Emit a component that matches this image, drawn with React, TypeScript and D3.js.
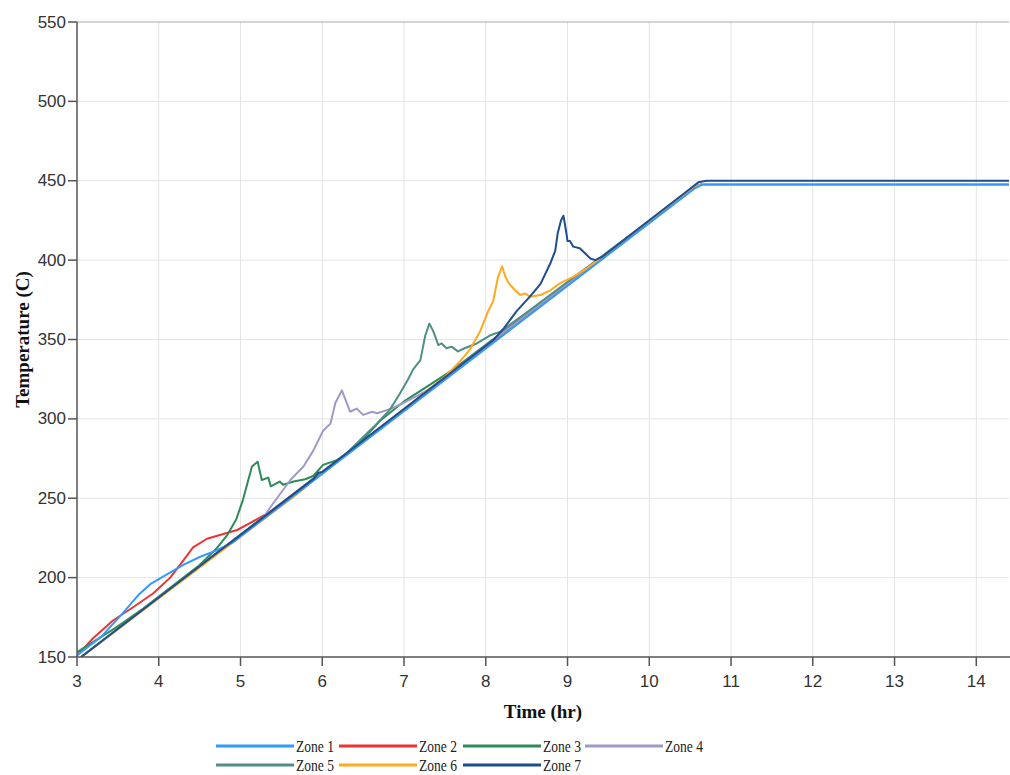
import React from "react";
import * as d3 from "d3";

type Pt = [number, number];

const zone1: Pt[] = [[3.0,151],[3.3,163],[3.55,177],[3.75,189],[3.9,196],[4.1,202],[4.3,208],[4.5,213],[4.7,217],[4.9,222],[10.55,445],[10.65,447.5],[14.4,447.5]];
const zone2: Pt[] = [[3.0,151],[3.2,162],[3.44,173],[3.69,181.5],[3.93,190],[4.14,200],[4.26,208],[4.42,219],[4.59,224.5],[4.79,227.5],[4.96,230],[5.12,234.5],[5.28,239],[5.35,241],[10.55,446],[10.65,448],[14.4,448]];
const zone3: Pt[] = [[3.0,153],[3.49,169],[3.81,180.5],[4.5,208],[4.7,218],[4.84,227],[4.95,237],[5.03,249],[5.14,270],[5.21,273],[5.26,261.5],[5.34,263],[5.37,257.5],[5.48,260.5],[5.52,258.5],[5.65,260.5],[5.79,262],[5.89,264],[6.01,271],[6.18,274],[6.38,280.5],[6.71,299],[7.0,311],[7.3,321],[7.6,331],[10.55,446],[10.65,448],[14.4,448]];
const zone4: Pt[] = [[3.05,150],[5.3,239],[5.36,244],[5.61,261.5],[5.77,270],[5.89,280],[6.01,292.5],[6.1,297],[6.16,310],[6.24,318],[6.34,304.5],[6.42,306.5],[6.5,302.5],[6.61,304.5],[6.67,303.5],[6.79,305.5],[6.89,307.5],[6.99,310],[7.16,314.5],[7.3,318.5],[10.55,446],[10.65,448],[14.4,448]];
const zone5: Pt[] = [[3.05,150],[6.3,278.5],[6.63,295],[6.83,306],[6.95,316],[7.05,325],[7.11,331],[7.2,337],[7.26,352.5],[7.31,360],[7.36,355],[7.42,346.5],[7.46,347.5],[7.52,344.5],[7.58,345.5],[7.66,342.5],[7.74,344.5],[7.89,347.5],[8.05,352.5],[8.18,355],[8.5,367],[10.55,446],[10.65,448],[14.4,448]];
const zone6: Pt[] = [[3.05,150],[5.65,251],[5.75,255],[5.85,259.5],[7.5,326.5],[7.69,336.5],[7.81,344],[7.93,355],[8.03,368],[8.09,374],[8.15,389.5],[8.2,396],[8.24,389.5],[8.28,385.5],[8.36,381],[8.42,378],[8.48,379],[8.54,377],[8.67,378],[8.79,381],[8.91,385.5],[9.07,389.5],[9.24,395],[9.36,399.5],[10.55,446],[10.65,448],[14.4,448]];
const zone7: Pt[] = [[3.05,150],[5.9,262.5],[5.95,266],[6.0,266.5],[8.1,350],[8.22,357],[8.38,368],[8.54,377],[8.67,385],[8.79,398],[8.85,406],[8.88,417],[8.92,425],[8.95,428],[8.98,419],[9.0,412],[9.03,412],[9.07,408.5],[9.15,407.5],[9.22,404],[9.28,401],[9.34,400],[9.42,402],[10.5,445],[10.6,449],[10.7,450],[14.4,450]];

const zoneNames = ["Zone 1", "Zone 2", "Zone 3", "Zone 4", "Zone 5", "Zone 6", "Zone 7"];
const zoneData = [zone1, zone2, zone3, zone4, zone5, zone6, zone7];
const zoneColors = ["#3399ff", "#ee3333", "#2e8b57", "#9e9ac8", "#4f8f85", "#ffa91f", "#1f4e8c"];
const drawOrder = [1, 2, 3, 4, 5, 0, 6];

const xTicks = [3, 4, 5, 6, 7, 8, 9, 10, 11, 12, 13, 14];
const yTicks = [150, 200, 250, 300, 350, 400, 450, 500, 550];
const xDomain: [number, number] = [3, 14.4];
const yDomain: [number, number] = [150, 550];

const W = 1010, H = 775;
const L = 77, R = 1009, T = 22, B = 657;

export default function App() {
  const x = d3.scaleLinear().domain(xDomain).range([L, R]);
  const y = d3.scaleLinear().domain(yDomain).range([B, T]);
  const line = d3.line<Pt>().x(d => x(d[0])).y(d => y(d[1]));
  const tickFont = "'Liberation Sans', Arial, sans-serif";
  const serif = "'Liberation Serif', 'Times New Roman', serif";
  const legendX = [216, 339, 463, 585];
  const legendY = [746, 765];
  return (
    <div style={{ position: "absolute", left: 0, top: 0 }}>
      <svg width={W} height={H} style={{ display: "block" }}>
        <rect width={W} height={H} fill="#fff" />
        {xTicks.filter(t => t > 3).map(t => (
          <line key={"gx" + t} x1={x(t)} x2={x(t)} y1={T} y2={B} stroke="#e4e4e4" strokeWidth={1} />
        ))}
        {yTicks.filter(t => t > 150).map(t => (
          <line key={"gy" + t} x1={L} x2={R} y1={y(t)} y2={y(t)} stroke={t === 550 ? "#aaa" : "#e4e4e4"} strokeWidth={1} />
        ))}
        <defs>
          <clipPath id="clip"><rect x={L} y={T} width={R - L + 1} height={B - T} /></clipPath>
        </defs>
        <g clipPath="url(#clip)">
          {drawOrder.map(i => (
            <path key={i} d={line(zoneData[i]) || ""} fill="none" stroke={zoneColors[i]} strokeWidth={2} strokeLinejoin="round" />
          ))}
        </g>
        <line x1={L} x2={L} y1={T} y2={B} stroke="#555" strokeWidth={1.5} />
        <line x1={L} x2={W} y1={B} y2={B} stroke="#555" strokeWidth={1.5} />
        {yTicks.map(t => (
          <g key={"yt" + t}>
            <line x1={L - 9} x2={L} y1={y(t)} y2={y(t)} stroke="#555" strokeWidth={1.5} />
            <text x={L - 11} y={y(t)} textAnchor="end" dominantBaseline="central" fontFamily={tickFont} fontSize={17} fill="#333">{t}</text>
          </g>
        ))}
        {xTicks.map(t => (
          <g key={"xt" + t}>
            <line x1={x(t)} x2={x(t)} y1={B} y2={B + 9} stroke="#555" strokeWidth={1.5} />
            <text x={x(t)} y={B + 24} textAnchor="middle" dominantBaseline="central" fontFamily={tickFont} fontSize={17} fill="#333">{t}</text>
          </g>
        ))}
        <text x={(L + R) / 2} y={711} textAnchor="middle" dominantBaseline="central" fontFamily={serif} fontWeight="bold" fontSize={19} fill="#111">Time (hr)</text>
        <text transform={`translate(22,${(T + B) / 2}) rotate(-90)`} textAnchor="middle" dominantBaseline="central" fontFamily={serif} fontWeight="bold" fontSize={19} fill="#111">Temperature (C)</text>
        {zoneNames.map((n, i) => {
          const lx = legendX[i % 4];
          const ly = legendY[Math.floor(i / 4)];
          return (
            <g key={"lg" + i}>
              <line x1={lx} x2={lx + 78} y1={ly} y2={ly} stroke={zoneColors[i]} strokeWidth={3} />
              <text x={lx + 80} y={ly} dominantBaseline="central" fontFamily={serif} fontSize={16} textLength={38} lengthAdjust="spacingAndGlyphs" fill="#222">{n}</text>
            </g>
          );
        })}
      </svg>
    </div>
  );
}
